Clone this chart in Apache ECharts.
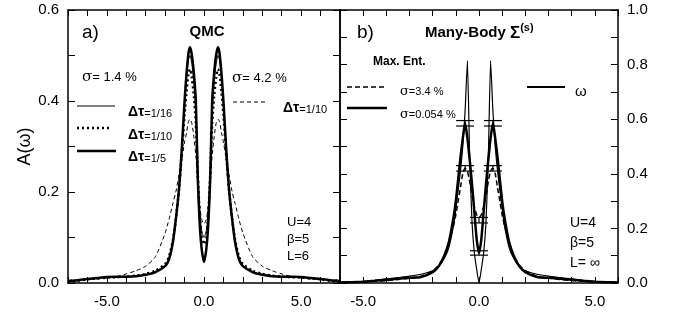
<!DOCTYPE html>
<html>
<head>
<meta charset="utf-8">
<script src="https://cdn.jsdelivr.net/npm/echarts@6/dist/echarts.min.js"></script>
<style>
  html, body { margin: 0; padding: 0; background: #fff; }
  #chart { width: 681px; height: 322px; }
</style>
</head>
<body>
<div id="chart"></div>
<script>
// panel a) QMC
const xA = [-7, -6.5, -6, -5.5, -5, -4.5, -4, -3.5, -3, -2.5, -2, -1.8, -1.6, -1.45, -1.3, -1.15, -1.0, -0.9, -0.8, -0.72, -0.62, -0.52, -0.42, -0.32, -0.22, -0.12, 0,
  0.12, 0.22, 0.32, 0.42, 0.52, 0.62, 0.72, 0.8, 0.9, 1.0, 1.15, 1.3, 1.45, 1.6, 1.8, 2, 2.5, 3, 3.5, 4, 4.5, 5, 5.5, 6, 6.5, 7];
const dt16 = [0.004, 0.006, 0.009, 0.011, 0.013, 0.014, 0.014, 0.015, 0.018, 0.025, 0.039, 0.055, 0.092, 0.14, 0.2, 0.285, 0.39, 0.45, 0.49, 0.5, 0.48, 0.44, 0.37, 0.25, 0.16, 0.115, 0.1,
  0.115, 0.16, 0.25, 0.37, 0.44, 0.48, 0.5, 0.49, 0.45, 0.39, 0.285, 0.2, 0.14, 0.092, 0.055, 0.039, 0.025, 0.018, 0.015, 0.014, 0.014, 0.013, 0.011, 0.009, 0.006, 0.004];
const dt10 = [0.003, 0.005, 0.008, 0.01, 0.012, 0.013, 0.014, 0.016, 0.02, 0.027, 0.042, 0.058, 0.095, 0.14, 0.2, 0.28, 0.37, 0.42, 0.46, 0.47, 0.45, 0.41, 0.35, 0.24, 0.15, 0.1, 0.085,
  0.1, 0.15, 0.24, 0.35, 0.41, 0.45, 0.47, 0.46, 0.42, 0.37, 0.28, 0.2, 0.14, 0.095, 0.058, 0.042, 0.027, 0.02, 0.016, 0.014, 0.013, 0.012, 0.01, 0.008, 0.005, 0.003];
const dt5 = [0.004, 0.006, 0.009, 0.011, 0.013, 0.014, 0.014, 0.015, 0.018, 0.024, 0.037, 0.052, 0.09, 0.14, 0.2, 0.29, 0.4, 0.46, 0.505, 0.518, 0.5, 0.46, 0.4, 0.23, 0.13, 0.075, 0.046,
  0.075, 0.13, 0.23, 0.4, 0.46, 0.5, 0.518, 0.505, 0.46, 0.4, 0.29, 0.2, 0.14, 0.09, 0.052, 0.037, 0.024, 0.018, 0.015, 0.014, 0.014, 0.013, 0.011, 0.009, 0.006, 0.004];
const s42 = [0.006, 0.007, 0.008, 0.009, 0.011, 0.014, 0.02, 0.027, 0.037, 0.058, 0.11, 0.14, 0.175, 0.2, 0.235, 0.27, 0.31, 0.33, 0.355, 0.36, 0.35, 0.32, 0.28, 0.22, 0.17, 0.14, 0.13,
  0.14, 0.17, 0.22, 0.28, 0.32, 0.35, 0.36, 0.355, 0.33, 0.31, 0.27, 0.235, 0.2, 0.175, 0.14, 0.11, 0.058, 0.037, 0.027, 0.02, 0.014, 0.011, 0.009, 0.008, 0.007, 0.006];

// panel b) many-body
const xB = [-6, -5.5, -5, -4.5, -4, -3.5, -3, -2.5, -2, -1.75, -1.5, -1.3, -1.1, -1.0, -0.9, -0.8, -0.7, -0.6, -0.5, -0.4, -0.3, -0.2, -0.1, 0,
  0.1, 0.2, 0.3, 0.4, 0.5, 0.6, 0.7, 0.8, 0.9, 1.0, 1.1, 1.3, 1.5, 1.75, 2, 2.5, 3, 3.5, 4, 4.5, 5, 5.5, 6];
const me054 = [0.002, 0.003, 0.005, 0.008, 0.012, 0.016, 0.019, 0.022, 0.04, 0.06, 0.1, 0.15, 0.24, 0.3, 0.38, 0.46, 0.53, 0.585, 0.53, 0.45, 0.36, 0.26, 0.16, 0.11,
  0.16, 0.26, 0.36, 0.45, 0.53, 0.585, 0.53, 0.46, 0.38, 0.3, 0.24, 0.15, 0.1, 0.06, 0.04, 0.022, 0.019, 0.016, 0.012, 0.008, 0.005, 0.003, 0.002];
const me34 = [0.002, 0.003, 0.004, 0.006, 0.009, 0.013, 0.018, 0.025, 0.045, 0.065, 0.1, 0.15, 0.21, 0.25, 0.3, 0.35, 0.4, 0.42, 0.41, 0.37, 0.32, 0.28, 0.25, 0.24,
  0.25, 0.28, 0.32, 0.37, 0.41, 0.42, 0.4, 0.35, 0.3, 0.25, 0.21, 0.15, 0.1, 0.065, 0.045, 0.025, 0.018, 0.013, 0.009, 0.006, 0.004, 0.003, 0.002];
const omega = [0.002, 0.004, 0.006, 0.01, 0.015, 0.02, 0.025, 0.032, 0.045, 0.06, 0.09, 0.13, 0.21, 0.27, 0.34, 0.41, 0.5, 0.63, 0.815, 0.45, 0.22, 0.11, 0.05, 0,
  0.05, 0.11, 0.22, 0.45, 0.815, 0.63, 0.5, 0.41, 0.34, 0.27, 0.21, 0.13, 0.09, 0.06, 0.045, 0.032, 0.025, 0.02, 0.015, 0.01, 0.006, 0.004, 0.002];
// error bars: x, y, half height
const errX = [-0.6, 0.6, -0.6, 0.6, 0, 0];
const errY = [0.585, 0.585, 0.42, 0.42, 0.23, 0.11];
const errE = [0.01, 0.01, 0.01, 0.01, 0.01, 0.008];

const FONT = "'Liberation Sans', Arial, sans-serif";
const zip = (xs, ys) => xs.map((x, i) => [x, ys[i]]);
const evenTenth = v => (Math.round(v * 10) % 2 === 0 ? v.toFixed(1) : "");

function xAxisPair(gridIndex, lim) {
	const base = {
		gridIndex,
		type: "value",
		min: -lim,
		max: lim,
		interval: 1,
		axisLine: { onZero: false, lineStyle: { color: "#000", width: 1.5 } },
		axisTick: { inside: true, length: 6, lineStyle: { color: "#000", width: 1 } },
		splitLine: { show: false }
	};
	return [
		{
			...base,
			position: "bottom",
			axisLabel: {
				margin: 11,
				fontFamily: FONT,
				fontSize: 15,
				color: "#000",
				formatter: v => (Math.abs(v) < lim && v % 5 === 0 ? v.toFixed(1) : "")
			}
		},
		{ ...base, position: "top", axisLabel: { show: false } }
	];
}

function yAxis(gridIndex, max, position, labels, extra = {}) {
	return {
		gridIndex,
		type: "value",
		position,
		min: 0,
		max,
		interval: 0.1,
		axisLine: { show: true, onZero: false, lineStyle: { color: "#000", width: 1.5 } },
		axisTick: { inside: true, length: 7, lineStyle: { color: "#000", width: 1 } },
		splitLine: { show: false },
		axisLabel: {
			show: labels,
			margin: 9,
			fontFamily: FONT,
			fontSize: 15,
			color: "#000",
			formatter: evenTenth
		},
		...extra
	};
}

function lineSeries(xi, yi, data, width, type, smooth = 0.25) {
	return {
		type: "line",
		xAxisIndex: xi,
		yAxisIndex: yi,
		data,
		symbol: "none",
		smooth,
		lineStyle: { color: "#000", width, type },
		z: 3
	};
}

// decorations
const txt = (x, y, text, size, extra = {}) => ({
	type: "text",
	x,
	y,
	style: { text, font: `${extra.bold ? "bold " : ""}${size}px ${FONT}`, fill: "#000", textVerticalAlign: "middle", ...extra.style }
});
const rich = (x, y, text, richStyles) => ({
	type: "text",
	x,
	y,
	style: { text, fill: "#000", textVerticalAlign: "middle", rich: richStyles }
});
const seg = (x1, x2, y, width, dash) => ({
	type: "line",
	shape: { x1, y1: y, x2, y2: y },
	style: { stroke: "#000", lineWidth: width, lineDash: dash || null }
});
const dtRich = {
	d: { fontFamily: FONT, fontSize: 14, fontWeight: "bold", verticalAlign: "bottom" },
	n: { fontFamily: FONT, fontSize: 11, verticalAlign: "bottom" }
};
const sgRich = {
	s: { fontFamily: "'DejaVu Serif', serif", fontSize: 15 },
	t: { fontFamily: FONT, fontSize: 13 }
};
const sgRichSmall = {
	s: { fontFamily: "'DejaVu Serif', serif", fontSize: 13 },
	t: { fontFamily: FONT, fontSize: 11 }
};

const chart = echarts.init(document.getElementById("chart"), null, { renderer: "canvas" });

chart.setOption({
	animation: false,
	backgroundColor: "#fff",
	grid: [
		{ left: 68, top: 10, width: 272, height: 273 },
		{ left: 340, top: 10, width: 278, height: 273 }
	],
	xAxis: [...xAxisPair(0, 7), ...xAxisPair(1, 6)],
	yAxis: [
		yAxis(0, 0.6, "left", true, {
			name: "A(ω)",
			nameLocation: "middle",
			nameRotate: 90,
			nameGap: 31,
			nameTextStyle: { fontFamily: FONT, fontSize: 18, color: "#000" }
		}),
		yAxis(0, 0.6, "right", false),
		yAxis(1, 1.0, "left", false),
		yAxis(1, 1.0, "right", true)
	],
	series: [
		lineSeries(0, 0, zip(xA, s42), 1, [4, 3]),
		lineSeries(0, 0, zip(xA, dt16), 1, "solid"),
		lineSeries(0, 0, zip(xA, dt10), 2.5, [2, 3]),
		lineSeries(0, 0, zip(xA, dt5), 2.5, "solid"),
		lineSeries(2, 2, zip(xB, me34), 1.5, [5, 3]),
		lineSeries(2, 2, zip(xB, omega), 1.2, "solid", 0.15),
		lineSeries(2, 2, zip(xB, me054), 2.5, "solid"),
		{
			type: "custom",
			xAxisIndex: 2,
			yAxisIndex: 2,
			z: 5,
			data: errX.map((x, i) => [x, errY[i], errE[i]]),
			renderItem(params, api) {
				const x = api.value(0);
				const y = api.value(1);
				const e = api.value(2);
				const top = api.coord([x, y + e]);
				const bot = api.coord([x, y - e]);
				const hw = 9;
				const st = { stroke: "#000", lineWidth: 1.2 };
				return {
					type: "group",
					children: [
						{ type: "line", shape: { x1: top[0] - hw, y1: top[1], x2: top[0] + hw, y2: top[1] }, style: st },
						{ type: "line", shape: { x1: bot[0] - hw, y1: bot[1], x2: bot[0] + hw, y2: bot[1] }, style: st },
						{ type: "line", shape: { x1: top[0], y1: top[1], x2: bot[0], y2: bot[1] }, style: st }
					]
				};
			}
		}
	],
	graphic: [
		// panel a
		txt(82, 33, "a)", 19),
		txt(207, 32, "QMC", 15, { bold: true, style: { textAlign: "center" } }),
		rich(82, 77, "{s|σ}{t|= 1.4 %}", sgRich),
		seg(77, 115, 106, 1),
		rich(128, 112, "{d|Δτ}{n|=1/16}", dtRich),
		seg(77, 111, 128, 2.5, [2, 3]),
		rich(128, 135, "{d|Δτ}{n|=1/10}", dtRich),
		seg(77, 116, 151, 2.5),
		rich(128, 157, "{d|Δτ}{n|=1/5}", dtRich),
		rich(232, 78, "{s|σ}{t|= 4.2 %}", sgRich),
		seg(233, 268, 102, 1, [4, 3]),
		rich(283, 108, "{d|Δτ}{n|=1/10}", dtRich),
		txt(287, 222, "U=4", 13),
		txt(287, 239, "β=5", 13),
		txt(287, 256, "L=6", 13),
		// panel b
		txt(357, 33, "b)", 19),
		rich(425, 33, "{m|Many-Body }{S|Σ}{p|(s)}", {
			m: { fontFamily: FONT, fontSize: 15, fontWeight: "bold" },
			S: { fontFamily: FONT, fontSize: 17, fontWeight: "bold" },
			p: { fontFamily: FONT, fontSize: 11, fontWeight: "bold", verticalAlign: "top", padding: [0, 0, 10, 0] }
		}),
		txt(373, 62, "Max. Ent.", 12, { bold: true }),
		seg(347, 385, 87, 1.5, [5, 3]),
		rich(400, 92, "{s|σ}{t|=3.4 %}", sgRichSmall),
		seg(347, 387, 108, 2.5),
		rich(400, 115, "{s|σ}{t|=0.054 %}", sgRichSmall),
		seg(527, 565, 87, 2),
		txt(575, 92, "ω", 15),
		txt(570, 223, "U=4", 14),
		txt(570, 243, "β=5", 14),
		txt(570, 263, "L= ∞", 14)
	]
});
</script>
</body>
</html>
